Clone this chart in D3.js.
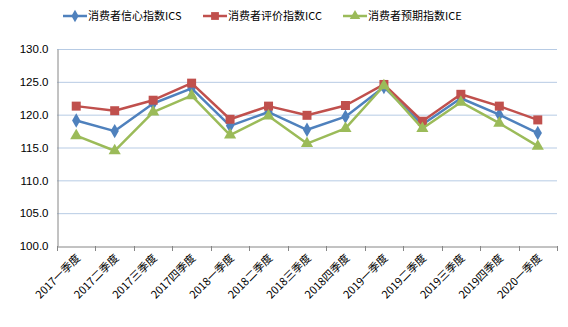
<!DOCTYPE html>
<html><head><meta charset="utf-8">
<script src="https://cdn.jsdelivr.net/npm/d3@7"></script>
<style>body{margin:0;background:#fff}svg{display:block}text{font-family:"Noto Sans CJK SC","Microsoft YaHei",sans-serif;fill:#000}</style>
</head><body><svg id="c" width="568" height="327"></svg>
<script>
const categories=["2017一季度","2017二季度","2017三季度","2017四季度","2018一季度","2018二季度","2018三季度","2018四季度","2019一季度","2019二季度","2019三季度","2019四季度","2020一季度"];
const ics=[119.1,117.5,121.7,124.0,118.3,120.4,117.7,119.7,124.2,118.5,122.5,120.0,117.2];
const icc=[121.3,120.6,122.2,124.8,119.3,121.3,119.9,121.4,124.6,119.0,123.1,121.3,119.2];
const ice=[116.8,114.5,120.4,122.9,116.9,119.8,115.6,117.9,124.4,117.9,121.9,118.7,115.2];
const yTicks=[100,105,110,115,120,125,130];
const seriesNames=["消费者信心指数ICS","消费者评价指数ICC","消费者预期指数ICE"];

const svg=d3.select("#c");
const L=57,R=557,T=49,B=246;
const x=d3.scaleBand().domain(categories).range([L,R]);
const y=d3.scaleLinear().domain([100,130]).range([B,T]);

svg.append("g").selectAll("line").data(yTicks.slice(1)).join("line")
 .attr("x1",L).attr("x2",R).attr("y1",d=>y(d)+0.5).attr("y2",d=>y(d)+0.5)
 .attr("stroke","#B7CBE4").attr("stroke-width",1);

const ya=svg.append("g").attr("transform",`translate(${L+0.5},0)`)
 .call(d3.axisLeft(y).tickValues(yTicks).tickFormat(d3.format(".1f")).tickSize(0).tickPadding(9));
ya.select(".domain").attr("stroke","#868686");
ya.selectAll("text").style("font-family","Liberation Sans, Arial, sans-serif").style("font-size","11.5px").attr("fill","#000");

const xa=svg.append("g").attr("transform",`translate(0,${B+0.5})`)
 .call(d3.axisBottom(x).tickSize(0).tickFormat(""));
xa.select(".domain").attr("stroke","#868686");
const bounds=categories.map(c=>x(c)).concat([R]);
svg.append("g").selectAll("line").data(bounds).join("line")
 .attr("x1",d=>Math.round(d)+0.5).attr("x2",d=>Math.round(d)+0.5).attr("y1",B).attr("y2",B+5)
 .attr("stroke","#868686");
svg.append("g").selectAll("text").data(categories).join("text")
 .attr("transform",d=>`translate(${x(d)+x.bandwidth()/2+2},${B+10}) rotate(-45)`)
 .attr("text-anchor","end").attr("dy","0.35em")
 .style("font-size","11px").attr("fill","#222").text(d=>d);

const cx=d=>x(d)+x.bandwidth()/2;
const series=[
 {name:seriesNames[0],data:ics,color:"#4F81BD",sym:d3.symbolDiamond,size:60},
 {name:seriesNames[1],data:icc,color:"#C0504D",sym:d3.symbolSquare,size:81},
 {name:seriesNames[2],data:ice,color:"#9BBB59",sym:d3.symbolTriangle,size:64}
];
const line=d3.line().x((d,i)=>cx(categories[i])).y(d=>y(d));
series.forEach(s=>{
 svg.append("path").datum(s.data).attr("d",line).attr("fill","none")
  .attr("stroke",s.color).attr("stroke-width",2.5).attr("stroke-linejoin","round");
 svg.append("g").selectAll("path").data(s.data).join("path")
  .attr("transform",(d,i)=>`translate(${cx(categories[i])},${y(d)})`)
  .attr("d",d3.symbol().type(s.sym).size(s.size)).attr("fill",s.color);
});

const legX=[63,203,343];
series.forEach((s,i)=>{
 const g=svg.append("g").attr("transform",`translate(${legX[i]},16)`);
 g.append("line").attr("x1",0).attr("x2",24).attr("stroke",s.color).attr("stroke-width",2.5);
 g.append("path").attr("transform","translate(12,0)").attr("d",d3.symbol().type(s.sym).size(s.size*0.75)).attr("fill",s.color);
 g.append("text").attr("x",25).attr("dy","0.35em").style("font-size","11px").attr("fill","#222").text(s.name);
});
</script></body></html>
